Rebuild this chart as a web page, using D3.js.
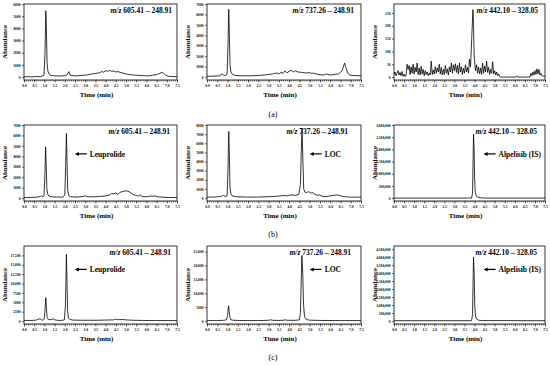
<!DOCTYPE html>
<html>
<head>
<meta charset="utf-8">
<script src="https://cdn.jsdelivr.net/npm/d3@7"></script>
<style>
	body { margin: 0; background: #fff; }
	svg text { font-family: "Liberation Serif", "Times New Roman", serif; }
</style>
</head>
<body>
<svg id="chart" width="550" height="366"></svg>
<script>
// time axis (min)
var xTicks = [0.0, 0.5, 1.0, 1.5, 2.0, 2.5, 3.0, 3.5, 4.0, 4.5, 5.0, 5.5, 6.0, 6.5, 7.0, 7.5];

// (a) blank
var blankLeu = [[0.0,20],[0.2,40],[0.4,10],[0.6,50],[0.8,30],[0.9,80],[0.98,150],[1.03,2000],[1.07,5450],[1.1,3800],[1.13,1200],[1.17,500],[1.23,250],[1.3,150],[1.5,100],[1.8,90],[2.0,120],[2.12,200],[2.2,450],[2.27,150],[2.4,120],[2.6,100],[2.9,150],[3.1,180],[3.3,250],[3.5,300],[3.7,350],[3.8,450],[3.9,400],[4.0,520],[4.1,480],[4.2,550],[4.3,470],[4.4,500],[4.5,420],[4.6,450],[4.7,400],[4.8,350],[5.0,250],[5.2,200],[5.5,150],[5.8,120],[6.1,100],[6.3,150],[6.5,200],[6.65,300],[6.78,400],[6.88,250],[6.98,120],[7.1,60],[7.3,40],[7.5,30]];
var blankLoc = [[0.0,80],[0.3,90],[0.6,120],[0.75,300],[0.82,180],[0.9,120],[0.98,300],[1.02,3000],[1.06,6500],[1.09,4000],[1.12,1200],[1.16,500],[1.24,250],[1.4,150],[1.7,120],[2.0,120],[2.5,150],[2.8,200],[3.0,250],[3.2,300],[3.3,350],[3.4,400],[3.5,300],[3.6,450],[3.7,350],[3.8,600],[3.9,400],[4.0,550],[4.1,650],[4.2,500],[4.3,600],[4.4,500],[4.6,450],[4.8,400],[5.0,420],[5.1,350],[5.2,380],[5.4,250],[5.7,200],[5.8,300],[6.0,200],[6.2,250],[6.4,300],[6.58,600],[6.7,1350],[6.77,900],[6.85,400],[6.95,200],[7.1,150],[7.5,120]];
var blankIs = [[0.0,10],[0.05,20],[0.1,5],[0.15,15],[0.2,25],[0.25,8],[0.3,18],[0.35,5],[0.4,22],[0.45,3],[0.5,12],[0.55,2],[0.6,8],[0.65,50],[0.7,30],[0.75,45],[0.8,10],[0.85,40],[0.9,15],[0.95,50],[1.0,12],[1.05,38],[1.1,20],[1.15,55],[1.2,10],[1.25,35],[1.3,8],[1.35,42],[1.4,12],[1.45,30],[1.5,5],[1.55,25],[1.6,10],[1.65,20],[1.7,5],[1.75,15],[1.8,8],[1.85,62],[1.9,10],[1.95,28],[2.0,12],[2.05,40],[2.1,15],[2.15,35],[2.2,20],[2.25,50],[2.3,12],[2.35,38],[2.4,8],[2.45,30],[2.5,10],[2.55,45],[2.6,15],[2.65,32],[2.7,8],[2.75,40],[2.8,20],[2.85,55],[2.9,15],[2.95,48],[3.0,25],[3.05,52],[3.1,18],[3.15,45],[3.2,12],[3.25,55],[3.3,20],[3.35,40],[3.4,10],[3.45,35],[3.5,15],[3.55,48],[3.6,20],[3.65,38],[3.7,15],[3.75,70],[3.8,40],[3.86,150],[3.92,263],[3.95,200],[3.98,90],[4.01,55],[4.05,25],[4.1,48],[4.15,15],[4.2,40],[4.25,12],[4.3,35],[4.35,10],[4.4,55],[4.45,15],[4.5,42],[4.55,20],[4.6,62],[4.65,18],[4.7,38],[4.75,10],[4.8,30],[4.85,15],[4.9,60],[4.95,12],[5.0,25],[5.05,8],[5.1,20],[5.15,5],[5.2,12],[5.25,2],[5.3,0],[6.05,0],[6.1,5],[6.15,0],[6.75,0],[6.8,15],[6.85,5],[6.9,20],[6.95,8],[7.0,25],[7.05,10],[7.1,32],[7.15,12],[7.2,30],[7.25,8],[7.3,15],[7.35,5],[7.5,3]];

// (b) LLOQ
var lloqLeu = [[0.0,50],[0.3,60],[0.6,80],[0.8,150],[0.86,220],[0.92,120],[0.98,200],[1.02,2000],[1.06,4900],[1.09,3000],[1.12,900],[1.16,400],[1.22,200],[1.35,120],[1.6,100],[1.9,90],[2.0,300],[2.04,3000],[2.08,6200],[2.11,3500],[2.14,800],[2.19,250],[2.3,120],[2.6,100],[2.9,150],[3.0,220],[3.1,130],[3.4,120],[3.7,150],[4.0,200],[4.2,300],[4.3,450],[4.4,400],[4.5,500],[4.6,350],[4.7,550],[4.8,600],[4.9,650],[5.0,700],[5.1,650],[5.2,550],[5.3,400],[5.4,300],[5.5,250],[5.6,200],[5.7,300],[5.8,150],[6.0,120],[6.2,200],[6.3,180],[6.4,200],[6.6,120],[6.8,80],[7.1,60],[7.5,50]];
var lloqLoc = [[0.0,100],[0.4,120],[0.7,200],[0.8,300],[0.88,180],[0.98,250],[1.02,3000],[1.06,7300],[1.09,4500],[1.12,1200],[1.16,500],[1.22,250],[1.4,150],[1.8,120],[2.2,100],[2.6,120],[3.0,150],[3.4,200],[3.7,280],[3.9,250],[4.1,350],[4.3,300],[4.47,400],[4.55,1500],[4.59,5000],[4.63,7600],[4.67,4000],[4.71,1000],[4.77,650],[4.85,600],[4.95,700],[5.05,550],[5.15,600],[5.25,400],[5.4,300],[5.5,350],[5.6,200],[5.8,150],[6.0,250],[6.2,300],[6.35,350],[6.5,250],[6.7,150],[7.0,100],[7.5,100]];
var lloqIs = [[0.0,0],[3.85,0],[3.9,200000],[3.95,2630000],[3.98,2000000],[4.0,900000],[4.03,300000],[4.07,120000],[4.15,40000],[4.3,10000],[4.6,0],[7.5,0]];

// (c) sample
var sampleLeu = [[0.0,150],[0.4,150],[0.6,250],[0.78,600],[0.86,300],[0.95,250],[0.99,500],[1.03,3000],[1.07,6200],[1.1,3500],[1.13,1000],[1.19,400],[1.32,350],[1.42,600],[1.5,350],[1.6,200],[1.8,150],[1.98,300],[2.03,4000],[2.08,17800],[2.11,10000],[2.14,2500],[2.18,800],[2.25,400],[2.4,250],[2.8,200],[3.2,200],[3.6,200],[4.0,250],[4.4,300],[4.5,500],[4.6,350],[4.8,400],[5.0,300],[5.3,200],[5.8,150],[6.5,120],[7.5,100]];
var sampleLoc = [[0.0,150],[0.5,150],[0.8,250],[0.95,400],[1.0,2000],[1.05,5500],[1.08,3500],[1.12,1200],[1.17,400],[1.3,250],[1.8,150],[2.5,150],[3.0,250],[3.1,450],[3.2,250],[3.5,200],[3.75,300],[3.82,450],[3.9,250],[4.3,250],[4.5,400],[4.55,3000],[4.59,15000],[4.62,23600],[4.66,18000],[4.7,6000],[4.75,1500],[4.85,500],[5.0,300],[5.5,200],[6.5,150],[7.5,150]];
var sampleIs = [[0.0,20000],[3.85,20000],[3.9,400000],[3.95,4000000],[3.98,3000000],[4.01,1000000],[4.05,300000],[4.1,120000],[4.2,50000],[4.4,25000],[7.5,20000]];

// abundance ticks
var ticksLeuA = [0, 1000, 2000, 3000, 4000, 5000, 6000];
var ticksLocA = [0, 1000, 2000, 3000, 4000, 5000, 6000, 7000];
var ticksIsA = [0, 50, 100, 150, 200, 250];
var ticksLeuB = [0, 1000, 2000, 3000, 4000, 5000, 6000, 7000];
var ticksLocB = [0, 1000, 2000, 3000, 4000, 5000, 6000, 7000, 8000];
var ticksIsB = [0, 500000, 1000000, 1500000, 2000000, 2500000, 3000000];
var ticksLeuC = [0, 2500, 5000, 7500, 10000, 12500, 15000, 17500];
var ticksLocC = [0, 5000, 10000, 15000, 20000, 25000];
var ticksIsC = [0, 500000, 1000000, 1500000, 2000000, 2500000, 3000000, 3500000, 4000000, 4500000];

var transitions = ["605.41\u2192248.91", "737.26\u2192248.91", "442.10\u2192328.05"];
var analytes = ["Leuprolide", "LOC", "Alpelisib (IS)"];
var rowLabels = ["(a)", "(b)", "(c)"];

var panels = [
	{ data: blankLeu, ticks: ticksLeuA, top: 6000 },
	{ data: blankLoc, ticks: ticksLocA, top: 7000 },
	{ data: blankIs, ticks: ticksIsA, top: 285 },
	{ data: lloqLeu, ticks: ticksLeuB, top: 7000 },
	{ data: lloqLoc, ticks: ticksLocB, top: 8000 },
	{ data: lloqIs, ticks: ticksIsB, top: 3000000 },
	{ data: sampleLeu, ticks: ticksLeuC, top: 20000 },
	{ data: sampleLoc, ticks: ticksLocC, top: 27000 },
	{ data: sampleIs, ticks: ticksIsC, top: 4700000 }
];

// frame positions
var cols = [{ x0: 24, x1: 177 }, { x0: 207, x1: 361 }, { x0: 394, x1: 545 }];
var rows = [{ y0: 4, y1: 80 }, { y0: 125, y1: 201 }, { y0: 246, y1: 324 }];
var rowLabelY = [114, 234, 357];
var labelInset = [5, 7, 7, 7, 13, 8, 6, 10, 8];
var arrowY = [0, 0.62, 0.7];

var svg = d3.select("#chart");
svg.append("rect").attr("width", 550).attr("height", 366).attr("fill", "#fff");

function yFormat(v) {
	return v >= 10000 ? d3.format(",")(v) : d3.format("d")(v);
}

function drawPanel(p, r, c) {
	var col = cols[c], row = rows[r];
	var idx = r * 3 + c;
	var x = d3.scaleLinear().domain([0, 7.5]).range([col.x0, col.x1]);
	var y = d3.scaleLinear().domain([-p.top * 0.04, p.top]).range([row.y1, row.y0]);
	var g = svg.append("g");

	// minor ticks on time axis
	g.append("g")
		.attr("transform", "translate(0," + row.y1 + ")")
		.call(d3.axisBottom(x).tickValues(d3.range(0, 76).map(function (i) { return i / 10; })).tickFormat("").tickSize(1.5).tickSizeOuter(0))
		.call(function (a) { a.select(".domain").remove(); a.selectAll("line").attr("stroke-width", 0.5); });

	var xa = g.append("g")
		.attr("transform", "translate(0," + row.y1 + ")")
		.call(d3.axisBottom(x).tickValues(xTicks).tickFormat(d3.format(".1f")).tickSize(2.5).tickPadding(1.5).tickSizeOuter(0));
	xa.select(".domain").remove();
	xa.selectAll("line").attr("stroke-width", 0.6);
	xa.selectAll("text").attr("font-size", "3.6px").attr("font-weight", "bold").attr("fill", "#000");

	var ya = g.append("g")
		.attr("transform", "translate(" + col.x0 + ",0)")
		.call(d3.axisLeft(y).tickValues(p.ticks).tickFormat(yFormat).tickSize(2).tickPadding(1.5).tickSizeOuter(0));
	ya.select(".domain").remove();
	ya.selectAll("line").attr("stroke-width", 0.6);
	ya.selectAll("text").attr("font-size", "3.6px").attr("font-weight", "bold").attr("fill", "#000");

	g.append("rect")
		.attr("x", col.x0).attr("y", row.y0)
		.attr("width", col.x1 - col.x0).attr("height", row.y1 - row.y0)
		.attr("fill", "none").attr("stroke", "#000").attr("stroke-width", 0.8);

	var line = d3.line()
		.x(function (d) { return x(d[0]); })
		.y(function (d) { return y(d[1]); });

	g.append("path")
		.datum(p.data)
		.attr("d", line)
		.attr("fill", "none")
		.attr("stroke", "#000")
		.attr("stroke-width", 0.8)
		.attr("stroke-linejoin", "round");

	g.append("text")
		.attr("transform", "translate(" + (col.x0 - 19) + "," + ((row.y0 + row.y1) / 2) + ") rotate(-90)")
		.attr("text-anchor", "middle")
		.attr("dy", "0.35em")
		.attr("font-size", "7px")
		.attr("font-weight", "bold")
		.text("Abundance");

	g.append("text")
		.attr("x", (col.x0 + col.x1) / 2 - 4)
		.attr("y", row.y1 + 15)
		.attr("text-anchor", "middle")
		.attr("dy", "0.35em")
		.attr("font-size", "7px")
		.attr("font-weight", "bold")
		.text("Time (min)");

	var mz = g.append("text")
		.attr("x", col.x1 - labelInset[idx])
		.attr("y", row.y0 + 9)
		.attr("text-anchor", "end")
		.attr("font-size", "7.5px")
		.attr("font-weight", "bold");
	mz.append("tspan").attr("font-style", "italic").text("m/z");
	mz.append("tspan").text(" " + transitions[c]);

	if (r > 0) {
		// arrow pointing at the peak
		var ay = row.y1 - arrowY[r] * (row.y1 - row.y0);
		var ax = c === 0 ? x(2.49) : (c === 1 ? x(5.0) : x(4.45));
		g.append("line")
			.attr("x1", ax + 3).attr("x2", ax + 12)
			.attr("y1", ay).attr("y2", ay)
			.attr("stroke", "#000").attr("stroke-width", 1.2);
		g.append("path")
			.attr("d", "M" + ax + "," + ay + "L" + (ax + 4) + "," + (ay - 2) + "L" + (ax + 4) + "," + (ay + 2) + "Z")
			.attr("fill", "#000");
		g.append("text")
			.attr("x", ax + 15)
			.attr("y", ay)
			.attr("dy", "0.35em")
			.attr("font-size", "7.5px")
			.attr("font-weight", "bold")
			.text(analytes[c]);
	}
}

for (var i = 0; i < panels.length; i++) {
	drawPanel(panels[i], Math.floor(i / 3), i % 3);
}

for (var k = 0; k < rowLabels.length; k++) {
	svg.append("text")
		.attr("x", 273)
		.attr("y", rowLabelY[k])
		.attr("text-anchor", "middle")
		.attr("dy", "0.35em")
		.attr("font-size", "8px")
		.text(rowLabels[k]);
}
</script>
</body>
</html>
